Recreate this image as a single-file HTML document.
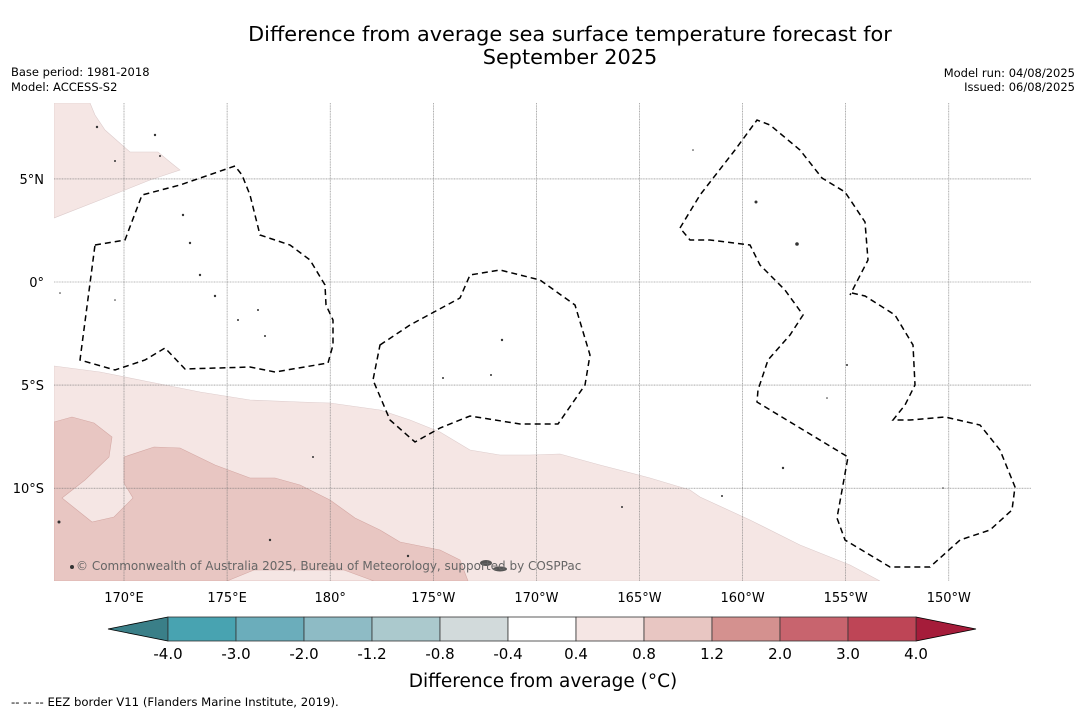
<!DOCTYPE html>
<html><head><meta charset="utf-8"><style>
html,body{margin:0;padding:0;background:#fff;}
svg{display:block;font-family:"DejaVu Sans","Liberation Sans",sans-serif;}
</style></head><body>
<svg id="chart" width="1085" height="713" viewBox="0 0 1085 713" xmlns="http://www.w3.org/2000/svg">
<rect width="1085" height="713" fill="#fff"/>
<text x="570" y="41" text-anchor="middle" font-size="20.8" fill="#000">Difference from average sea surface temperature forecast for</text>
<text x="570" y="64" text-anchor="middle" font-size="20.8" fill="#000">September 2025</text>
<text x="11" y="76" font-size="11.5">Base period: 1981-2018</text>
<text x="11" y="91" font-size="11.5">Model: ACCESS-S2</text>
<text x="1075" y="77" font-size="11.5" text-anchor="end">Model run: 04/08/2025</text>
<text x="1075" y="91" font-size="11.5" text-anchor="end">Issued: 06/08/2025</text>
<defs><clipPath id="mapclip"><rect x="54" y="103" width="977" height="478"/></clipPath></defs>
<g id="map" clip-path="url(#mapclip)">
<path d="M54,103 L90,103 L95,115 L105,130 L130,152 L158,152 L170,162 L180,170 L150,180 L100,200 L54,218 Z" fill="#f5e6e4" stroke="#dcc" stroke-width="0.6"/>
<path d="M54,366 L100,372 L150,382 L200,392 L250,400 L300,402 L330,403 L380,410 L410,420 L440,432 L470,450 L500,455 L530,455 L560,454 L600,465 L650,478 L690,490 L700,497 L750,520 L800,545 L850,565 L880,581 L54,581 Z" fill="#f5e6e4" stroke="#dcc" stroke-width="0.6"/>
<path d="M54,422 L72,417 L94,423 L112,437 L109,457 L85,480 L62,498 L92,522 L114,517 L133,498 L124,483 L124,457 L154,447 L180,448 L215,465 L250,478 L275,478 L300,485 L330,500 L355,518 L380,530 L400,542 L440,550 L460,560 L468,581 L54,581 Z" fill="#e8c6c2" stroke="#d4a8a4" stroke-width="0.6"/>
<path d="M227,581 L254,570 L344,570 L374,581 Z" fill="#f5e6e4" stroke="#d4a8a4" stroke-width="0.6"/>
<g id="grid" stroke="#777" stroke-width="0.6" stroke-dasharray="1,0.6"></g>
<g fill="none" stroke="#000" stroke-width="1.5" stroke-dasharray="6,4">
<path d="M95,245 L125,240 L142,195 L180,185 L235,166 L242,175 L250,195 L260,235 L290,245 L310,260 L325,285 L326,305 L333,320 L333,345 L328,363 L275,372 L250,367 L185,369 L165,348 L145,360 L115,370 L80,360 Z"/>
<path d="M380,345 L410,325 L460,298 L470,275 L500,270 L540,280 L575,305 L590,355 L585,385 L558,424 L520,424 L470,416 L440,428 L415,442 L390,420 L373,380 Z"/>
<path d="M680,228 L700,195 L735,150 L757,120 L770,125 L800,150 L822,178 L845,192 L865,222 L868,260 L850,295 M852,293 L865,296 L895,315 L913,345 L915,385 L905,405 L893,420 L910,420 L945,417 L980,425 L1000,450 L1015,487 L1012,510 L990,530 L960,540 L930,567 L890,567 L845,540 L837,518 L848,457 L757,402 L758,390 L768,360 L790,335 L803,315 L785,290 L760,265 L750,245 L710,240 L690,240 L680,228"/>
</g>
<g fill="#333">
<circle cx="97" cy="127" r="1.2"/><circle cx="115" cy="161" r="1"/><circle cx="155" cy="135" r="1.2"/><circle cx="160" cy="156" r="1"/><circle cx="183" cy="215" r="1.2"/><circle cx="190" cy="243" r="1.2"/><circle cx="200" cy="275" r="1.2"/><circle cx="215" cy="296" r="1.2"/><circle cx="238" cy="320" r="1"/><circle cx="258" cy="310" r="1"/><circle cx="265" cy="336" r="1"/><circle cx="115" cy="300" r="0.8"/><circle cx="60" cy="293" r="0.8"/>
<circle cx="502" cy="340" r="1.2"/><circle cx="491" cy="375" r="1"/><circle cx="443" cy="378" r="1"/><circle cx="313" cy="457" r="1"/><circle cx="270" cy="540" r="1.2"/><circle cx="59" cy="522" r="1.5"/><circle cx="72" cy="567" r="2"/><circle cx="408" cy="556" r="1.2"/>
<circle cx="756" cy="202" r="1.5"/><circle cx="797" cy="244" r="1.8"/><circle cx="783" cy="468" r="1.2"/><circle cx="722" cy="496" r="1"/><circle cx="847" cy="365" r="1"/><circle cx="827" cy="398" r="0.8"/><circle cx="622" cy="507" r="1"/><circle cx="693" cy="150" r="0.8"/><circle cx="943" cy="488" r="0.8"/>
<ellipse cx="486" cy="563" rx="6" ry="3" fill="#555"/><ellipse cx="500" cy="569" rx="7" ry="2.5" fill="#555"/>
</g>
<text x="76" y="570" font-size="12" fill="#666">© Commonwealth of Australia 2025, Bureau of Meteorology, supported by COSPPac</text>
</g>
<g id="axislabels" font-size="13" fill="#000"></g>
<g id="colorbar"></g>
<text x="543" y="687" text-anchor="middle" font-size="18.5">Difference from average (°C)</text>
<text x="11" y="706" font-size="11.7">--  --  -- EEZ border V11 (Flanders Marine Institute, 2019).</text>
</svg>
<script>
const lonTicks = [170, 175, 180, 185, 190, 195, 200, 205, 210];
const lonLabels = ["170°E","175°E","180°","175°W","170°W","165°W","160°W","155°W","150°W"];
const latTicks = [5, 0, -5, -10];
const latLabels = ["5°N","0°","5°S","10°S"];
const cbLevels = [-4.0, -3.0, -2.0, -1.2, -0.8, -0.4, 0.4, 0.8, 1.2, 2.0, 3.0, 4.0];
const cbColors = ["#48a3b1","#6badbb","#8ebbc5","#abc9cd","#d2dadb","#ffffff","#f5e6e4","#e8c6c2","#d4918f","#c8646e","#be4556"];
const cbUnder = "#3a7f88";
const cbOver = "#a51c3a";
const NS = "http://www.w3.org/2000/svg";
const xLon = lon => 124 + (lon - 170) * 20.62;
const yLat = lat => 282 - lat * 20.62;
const grid = document.getElementById('grid');
const labs = document.getElementById('axislabels');
lonTicks.forEach((lon, i) => {
  const l = document.createElementNS(NS, 'line');
  
  
  l.setAttribute('x1', xLon(lon)); l.setAttribute('x2', xLon(lon));
  l.setAttribute('y1', 103); l.setAttribute('y2', 581);
  grid.appendChild(l);
  const t = document.createElementNS(NS, 'text');
  
  
  t.setAttribute('x', xLon(lon)); t.setAttribute('y', 602);
  t.setAttribute('text-anchor', 'middle');
  t.textContent = lonLabels[i];
  labs.appendChild(t);
});
latTicks.forEach((lat, i) => {
  const l = document.createElementNS(NS, 'line');
  
  
  l.setAttribute('x1', 54); l.setAttribute('x2', 1031);
  l.setAttribute('y1', yLat(lat)); l.setAttribute('y2', yLat(lat));
  grid.appendChild(l);
  const t = document.createElementNS(NS, 'text');
  
  
  t.setAttribute('x', 44); t.setAttribute('y', yLat(lat) + 5);
  t.setAttribute('text-anchor', 'end');
  t.textContent = latLabels[i];
  labs.appendChild(t);
});
const cb = document.getElementById('colorbar');
const cbX0 = 168, cbW = 68, cbY = 617, cbH = 24;
const cbPos = i => cbX0 + i * cbW;
const under = document.createElementNS(NS, 'polygon');


under.setAttribute('points', `${cbPos(0)},${cbY} ${cbPos(0)-60},${cbY+cbH/2} ${cbPos(0)},${cbY+cbH}`);
under.setAttribute('fill', cbUnder); under.setAttribute('stroke', '#000'); under.setAttribute('stroke-width', '0.8');
cb.appendChild(under);
const nSeg = cbColors.length;
const over = document.createElementNS(NS, 'polygon');


over.setAttribute('points', `${cbPos(nSeg)},${cbY} ${cbPos(nSeg)+60},${cbY+cbH/2} ${cbPos(nSeg)},${cbY+cbH}`);
over.setAttribute('fill', cbOver); over.setAttribute('stroke', '#000'); over.setAttribute('stroke-width', '0.8');
cb.appendChild(over);
cbColors.forEach((c, i) => {
  const r = document.createElementNS(NS, 'rect');
  
  
  r.setAttribute('x', cbPos(i)); r.setAttribute('y', cbY);
  r.setAttribute('width', cbW); r.setAttribute('height', cbH);
  r.setAttribute('fill', c); r.setAttribute('stroke', '#333'); r.setAttribute('stroke-width', '0.8');
  cb.appendChild(r);
});
cbLevels.forEach((v, i) => {
  const t = document.createElementNS(NS, 'text');
  
  
  t.setAttribute('x', cbPos(i)); t.setAttribute('y', 659);
  t.setAttribute('text-anchor', 'middle'); t.setAttribute('font-size', '15');
  t.textContent = v.toFixed(1);
  cb.appendChild(t);
});
</script>
</body></html>
